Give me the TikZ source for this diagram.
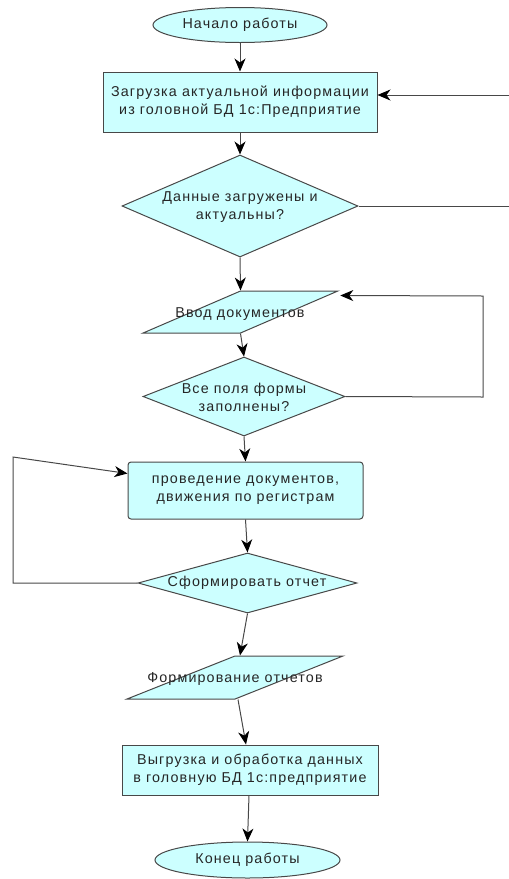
\documentclass[tikz,border=0pt]{standalone}
\usepackage{fontspec}
\setmainfont[LetterSpace=8]{Liberation Sans}
\usetikzlibrary{shapes.geometric,arrows.meta}
\definecolor{boxfill}{HTML}{CCFFFF}
\definecolor{edge}{HTML}{484848}
\definecolor{txt}{HTML}{262626}
\begin{document}
\begin{tikzpicture}[x=1pt,y=-1pt,
  every node/.style={font=\fontsize{14.3}{18}\selectfont, text=txt, align=center},
  shp/.style={draw=edge, fill=boxfill, line width=1pt, inner sep=0pt},
  term/.style={shp, ellipse},
  procbox/.style={shp, rectangle},
  decis/.style={shp, diamond},
  iobox/.style={shp, trapezium, trapezium stretches=true},
  lbl/.style={inner sep=0pt},
  conn/.style={draw=edge, line width=1pt, -{Stealth[length=13pt,width=11pt,inset=4pt,color=black]}},
  line/.style={draw=edge, line width=1pt}]
\useasboundingbox (0,0) rectangle (509,879);

\node[term, minimum width=174pt, minimum height=35pt] (start) at (240,25) {Начало работы};
\node[procbox, minimum width=274pt, minimum height=60pt] (load) at (240,102) {Загрузка актуальной информации\\из головной БД 1с:Предприятие};
\node[decis, minimum width=236pt, minimum height=102pt] (d1) at (240,206) {};
\node[lbl] (d1t) at (240,207) {Данные загружены и\\актуальны?};
\node[iobox, trapezium left angle=66, trapezium right angle=114, minimum width=195pt, minimum height=42pt] (p1) at (240.5,312) {\strut};
\node[lbl] (p1t) at (240,314.5) {Ввод документов};
\node[decis, minimum width=202pt, minimum height=79pt] (d2) at (244,396.5) {};
\node[lbl] (d2t) at (244,397) {Все поля формы\\заполнены?};
\node[procbox, rounded corners=3pt, minimum width=235pt, minimum height=57pt] (rr) at (245.5,490.5) {проведение документов,\\движения по регистрам};
\node[decis, minimum width=219pt, minimum height=60pt] (d3) at (247.5,583) {};
\node[lbl] (d3t) at (247,583) {Сформировать отчет};
\node[iobox, trapezium left angle=70, trapezium right angle=110, minimum width=216pt, minimum height=43pt] (p2) at (235,677.5) {\strut};
\node[lbl] (p2t) at (235,679.5) {Формирование отчетов};
\node[procbox, minimum width=256pt, minimum height=50pt] (out) at (250,770) {Выгрузка и обработка данных\\в головную БД 1с:предприятие};
\node[term, minimum width=185pt, minimum height=36pt] (end) at (247.5,860) {Конец работы};

\coordinate (e1) at (509,206);
\coordinate (e2) at (509,95);
\coordinate (r1) at (483,397);
\coordinate (r2) at (483,296);
\coordinate (l1) at (13,583);
\coordinate (l2) at (13,457);

\draw[conn] (start) -- (load);
\draw[conn] (load) -- (d1);
\draw[conn] (d1.south) -- (p1.north);
\draw[conn] (p1.south) -- (d2.north);
\draw[conn] (d2.south) -- (rr.north);
\draw[conn] (rr.south) -- (d3.north);
\draw[conn] (d3.south) -- ([xshift=5pt]p2.north);
\draw[conn] ([xshift=3pt]p2.south) -- ([xshift=-4pt]out.north);
\draw[conn] ([xshift=-1pt]out.south) -- (end.north);

\draw[line] (d1.east) -- (e1);
\draw[conn] (e2) -- ([yshift=7pt]load.east);
\draw[conn] (d2.east) -- (r1) -- (r2) -- ([yshift=-5pt]p1.top right corner);
\draw[conn] (d3.west) -- (l1) -- (l2) -- ([yshift=17pt]rr.west);
\end{tikzpicture}
\end{document}
